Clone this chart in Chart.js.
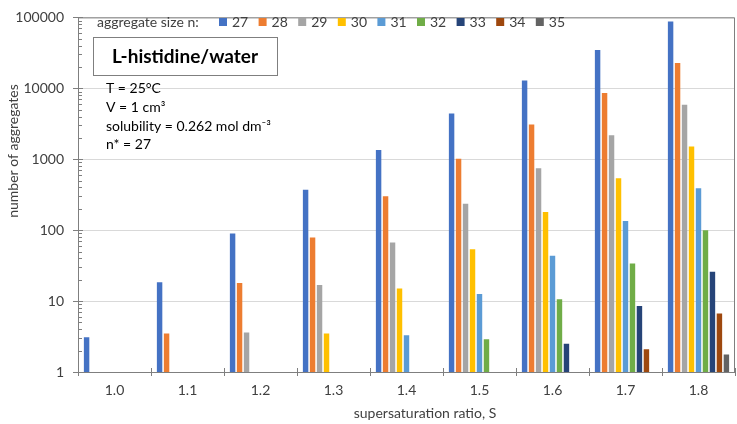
<!DOCTYPE html>
<html>
<head>
<meta charset="utf-8">
<script src="https://cdn.jsdelivr.net/npm/chart.js@4/dist/chart.umd.min.js"></script>
<style>
html, body { margin: 0; padding: 0; background: #fff; }
</style>
</head>
<body>
<canvas id="grafico" width="737" height="424"></canvas>
<script>
// supersaturation ratio S (x categories)
var categorias = ["1.0", "1.1", "1.2", "1.3", "1.4", "1.5", "1.6", "1.7", "1.8"];
var tamanos = ["27", "28", "29", "30", "31", "32", "33", "34", "35"];

// number of aggregates per size n
var n27 = [3.1, 18.5, 90, 370, 1350, 4400, 12900, 34600, 87500];
var n28 = [null, 3.5, 18, 79, 300, 1020, 3100, 8600, 22800];
var n29 = [null, null, 3.6, 16.8, 67, 236, 746, 2180, 5850];
var n30 = [null, null, null, 3.5, 15, 54, 180, 540, 1510];
var n31 = [null, null, null, null, 3.3, 12.6, 43.6, 135, 390];
var n32 = [null, null, null, null, null, 2.9, 10.6, 34, 100];
var n33 = [null, null, null, null, null, null, 2.5, 8.5, 26];
var n34 = [null, null, null, null, null, null, null, 2.1, 6.7];
var n35 = [null, null, null, null, null, null, null, null, 1.76];

var yTicks = [1, 10, 100, 1000, 10000, 100000];
var colores = ["#4472C4", "#ED7D31", "#A5A5A5", "#FFC000", "#5B9BD5", "#70AD47", "#264478", "#9E480E", "#636363"];

var series = [n27, n28, n29, n30, n31, n32, n33, n34, n35];
var textoColor = "#404040";
var fuente = "Lato";

function esPotencia(v) {
  return yTicks.indexOf(v) >= 0;
}

// minor/major ticks, frame, legend, text boxes
var decoracion = {
  id: "decoracion",
  afterDraw: function (chart) {
    var ctx = chart.ctx;
    var a = chart.chartArea;
    var ys = chart.scales.y;
    var xs = chart.scales.x;
    ctx.save();

    // frame top/right
    ctx.strokeStyle = "#7f7f7f";
    ctx.lineWidth = 1;
    ctx.beginPath();
    ctx.moveTo(a.left, a.top + 0.5);
    ctx.lineTo(a.right - 0.5, a.top + 0.5);
    ctx.lineTo(a.right - 0.5, a.bottom);
    ctx.stroke();

    // y minor ticks inside axis
    ctx.beginPath();
    for (var k = 0; k < 5; k++) {
      for (var m = 1; m <= 10; m++) {
        var v = m * Math.pow(10, k);
        var py = Math.round(ys.getPixelForValue(v)) + 0.5;
        ctx.moveTo(a.left, py);
        ctx.lineTo(a.left + (m == 1 || m == 10 ? 5 : 4), py);
      }
    }
    // x ticks inside axis
    for (var i = 0; i <= categorias.length; i++) {
      var px = Math.round(xs.getPixelForValue(i - 0.5)) + 0.5;
      ctx.moveTo(px, a.bottom);
      ctx.lineTo(px, a.bottom - 4);
    }
    ctx.stroke();

    // legend
    ctx.font = "14px " + fuente;
    ctx.textBaseline = "middle";
    ctx.textAlign = "left";
    ctx.fillStyle = textoColor;
    ctx.fillText("aggregate size n:", 97, 22);
    chart.data.datasets.forEach(function (ds, j) {
      var lx = 219 + j * 39.6;
      ctx.fillStyle = ds.backgroundColor;
      ctx.fillRect(lx, 18, 8, 8);
      ctx.fillStyle = textoColor;
      ctx.fillText(ds.label, lx + 13, 22);
    });

    // title box
    ctx.fillStyle = "#fff";
    ctx.fillRect(93, 37, 184, 38);
    ctx.strokeStyle = "#7f7f7f";
    ctx.strokeRect(93.5, 37.5, 184, 38);
    ctx.fillStyle = "#000";
    ctx.font = "bold 19px " + fuente;
    ctx.textAlign = "center";
    ctx.fillText("L-histidine/water", 185, 57);

    // conditions
    ctx.font = "14px " + fuente;
    ctx.textAlign = "left";
    ctx.fillText("T = 25°C", 106, 88);
    ctx.fillText("V = 1 cm³", 106, 107);
    ctx.fillText("solubility = 0.262 mol dm⁻³", 106, 126);
    ctx.fillText("n* = 27", 106, 144);

    // axis titles
    ctx.fillStyle = textoColor;
    ctx.textAlign = "center";
    ctx.fillText("supersaturation ratio, S", 425, 413);
    ctx.translate(13, 151);
    ctx.rotate(-Math.PI / 2);
    ctx.fillText("number of aggregates", 0, 0);
    ctx.restore();
  }
};

function crearGrafico() {
  var ctx = document.getElementById("grafico").getContext("2d");

  var datasets = series.map(function (valores, j) {
    return {
      label: tamanos[j],
      data: valores,
      backgroundColor: colores[j],
      borderWidth: 0,
      categoryPercentage: 0.86,
      barPercentage: 0.78
    };
  });

  var config = {
    type: "bar",
    data: { labels: categorias, datasets: datasets },
    options: {
      responsive: false,
      animation: false,
      devicePixelRatio: 1,
      layout: { padding: { top: 6, right: 2, left: 0, bottom: 0 } },
      plugins: {
        legend: { display: false },
        tooltip: { enabled: false }
      },
      scales: {
        x: {
          offset: true,
          grid: { offset: true, drawOnChartArea: false, drawTicks: true, tickLength: 4, color: "#7f7f7f" },
          border: { color: "#7f7f7f" },
          ticks: { color: textoColor, font: { family: fuente, size: 14 }, padding: 6 },
          afterFit: function (s) { s.height = 52; }
        },
        y: {
          type: "logarithmic",
          min: 1,
          max: 100000,
          afterBuildTicks: function (s) {
            var t = [];
            for (var k = 0; k < 5; k++) {
              for (var m = 1; m < 10; m++) t.push({ value: m * Math.pow(10, k) });
            }
            t.push({ value: 100000 });
            s.ticks = t;
          },
          grid: {
            color: function (c) { return c.tick && esPotencia(c.tick.value) ? "#d9d9d9" : "rgba(0,0,0,0)"; },
            tickColor: function (c) { return c.tick && esPotencia(c.tick.value) ? "#7f7f7f" : "rgba(0,0,0,0)"; },
            tickLength: 5
          },
          border: { color: "#7f7f7f" },
          ticks: {
            autoSkip: false,
            color: textoColor,
            font: { family: fuente, size: 14 },
            padding: 9,
            callback: function (v) { return esPotencia(v) ? String(v) : ""; }
          },
          afterFit: function (s) { s.width = 78; }
        }
      }
    },
    plugins: [decoracion]
  };

  var grafico = new Chart(ctx, config);
}

crearGrafico();
</script>
</body>
</html>
